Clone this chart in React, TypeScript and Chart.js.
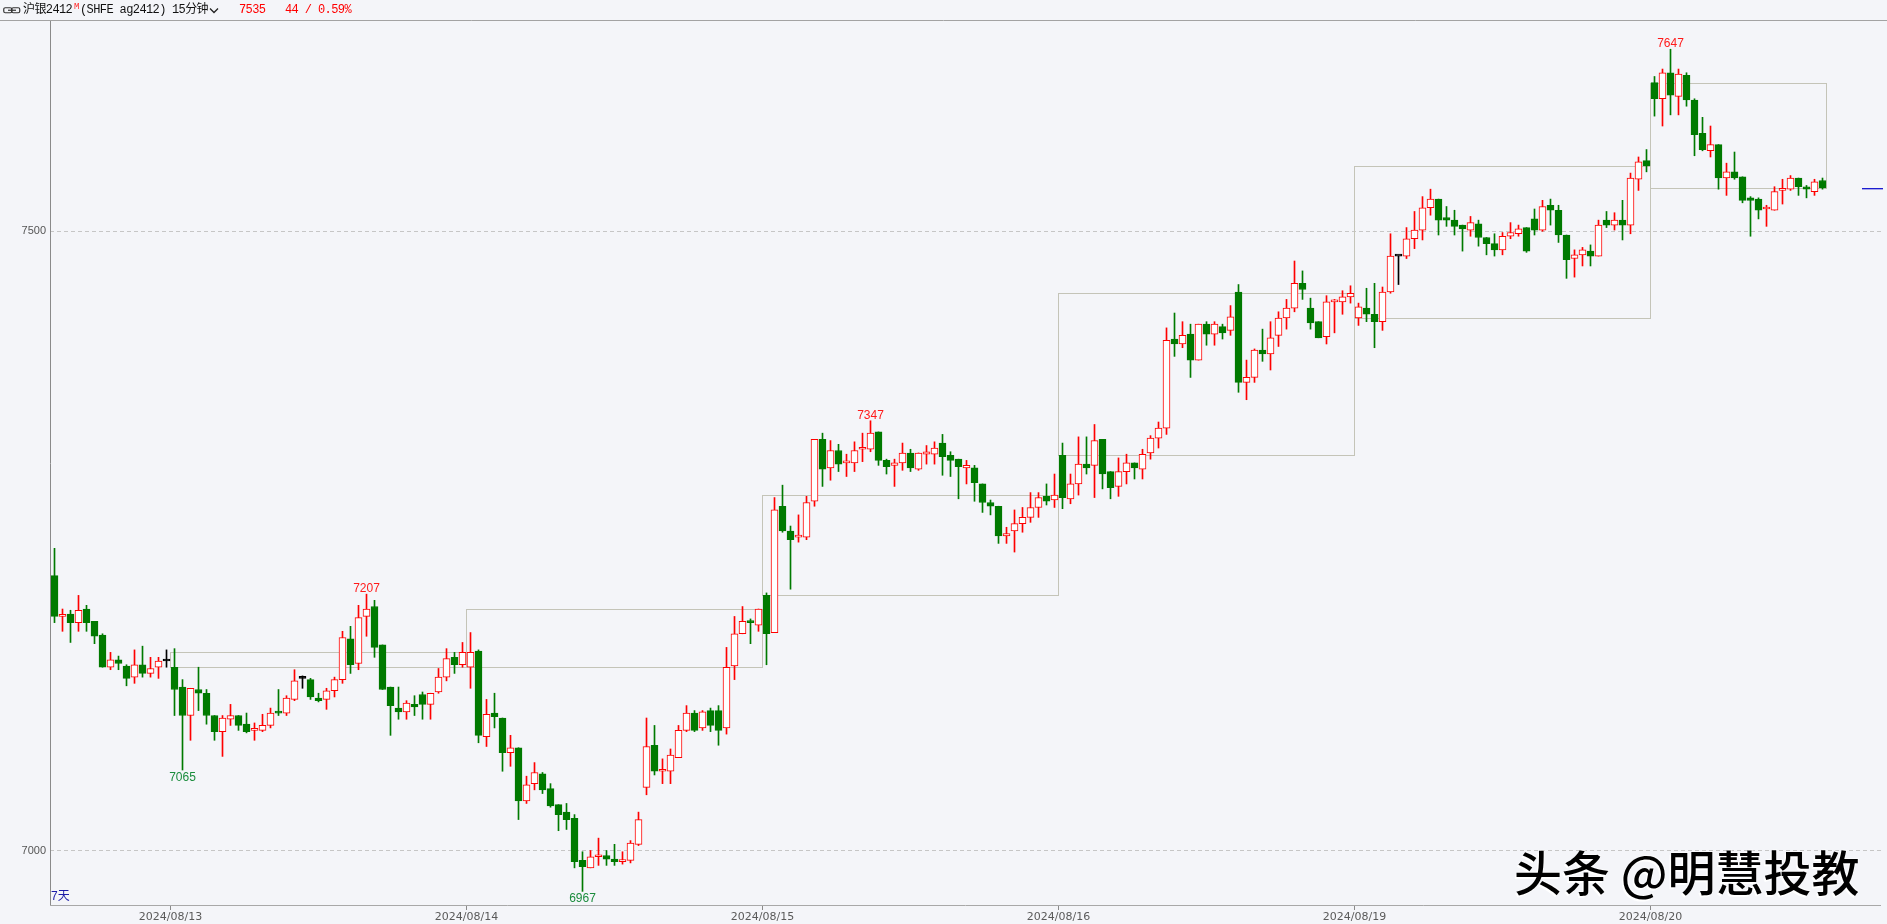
import React, { useEffect, useRef } from 'react';
import { Chart, registerables } from 'chart.js';

Chart.register(...registerables);

// 15-minute candles, index 0 = first bar on the chart
const OPEN = [
  7222, 7189, 7191, 7184, 7195, 7185, 7174, 7148, 7154, 7149, 7140, 7150, 7143, 7148, 7153,
  7148, 7132, 7109, 7130, 7127, 7109, 7096, 7106, 7109, 7102, 7097, 7097, 7101, 7112, 7111,
  7122, 7139, 7138, 7123, 7122, 7129, 7138, 7171, 7151, 7189, 7197, 7166, 7132, 7115, 7112,
  7118, 7126, 7118, 7128, 7140, 7156, 7150,
  7148, 7161, 7092, 7111, 7107, 7079, 7083, 7040, 7054, 7062, 7050, 7037, 7031, 7026, 6992,
  6986, 6995, 6996, 6993, 6991, 6992, 7005, 7051, 7085, 7064, 7064, 7075, 7097, 7111, 7099,
  7113, 7113, 7099, 7149, 7175, 7185, 7182,
  7206, 7176, 7278, 7258, 7253, 7253, 7282, 7332, 7309, 7323, 7313, 7313, 7324, 7324, 7338,
  7315, 7311, 7313, 7321, 7308, 7320, 7320, 7329, 7319, 7316, 7309, 7309, 7296, 7281, 7278,
  7254, 7258, 7264, 7269, 7277, 7286, 7283,
  7319, 7284, 7296, 7312, 7311, 7332, 7306, 7294, 7306, 7313, 7308, 7321, 7333, 7341, 7413,
  7409, 7417, 7396, 7425, 7417, 7423, 7420, 7451, 7378, 7382, 7404, 7401, 7416, 7430, 7438,
  7458, 7438, 7427, 7415, 7443, 7443, 7447,
  7430, 7438, 7433, 7427, 7451, 7480, 7480, 7494, 7501, 7519, 7526, 7511, 7509, 7505, 7501,
  7506, 7495, 7490, 7485, 7496, 7498, 7503, 7510, 7501, 7521, 7517, 7497, 7478, 7481, 7484,
  7480, 7509, 7505, 7509, 7505, 7542, 7557,
  7620, 7607, 7628, 7609, 7626, 7606, 7579, 7565, 7570, 7543, 7548, 7544, 7527, 7526, 7518,
  7517, 7533, 7534, 7543, 7536, 7532, 7541,
];
const HIGH = [
  7244, 7195, 7194, 7206, 7198, 7185, 7175, 7160, 7157, 7150, 7162, 7165, 7156, 7156, 7162,
  7163, 7138, 7131, 7148, 7130, 7109, 7109, 7118, 7109, 7111, 7103, 7110, 7115, 7130, 7125,
  7146, 7141, 7139, 7127, 7131, 7140, 7177, 7181, 7198, 7207, 7202, 7166, 7132, 7132, 7121,
  7125, 7128, 7127, 7147, 7163, 7160, 7168,
  7176, 7162, 7122, 7127, 7107, 7093, 7083, 7060, 7071, 7063, 7054, 7037, 7038, 7029, 6999,
  7000, 7010, 7000, 7005, 6999, 7008, 7031, 7107, 7101, 7074, 7082, 7101, 7117, 7113, 7113,
  7115, 7117, 7164, 7189, 7197, 7187, 7195,
  7208, 7285, 7295, 7262, 7271, 7286, 7332, 7337, 7331, 7328, 7320, 7330, 7337, 7347, 7338,
  7316, 7316, 7329, 7324, 7321, 7327, 7330, 7336, 7322, 7316, 7315, 7311, 7296, 7283, 7278,
  7261, 7275, 7277, 7289, 7289, 7296, 7304,
  7329, 7304, 7334, 7334, 7344, 7332, 7306, 7317, 7320, 7313, 7324, 7335, 7346, 7422, 7434,
  7427, 7425, 7425, 7427, 7427, 7425, 7440, 7457, 7396, 7405, 7421, 7427, 7435, 7445, 7476,
  7468, 7446, 7427, 7448, 7445, 7452, 7456,
  7442, 7454, 7458, 7455, 7498, 7480, 7503, 7516, 7528, 7534, 7526, 7520, 7517, 7505, 7512,
  7509, 7495, 7498, 7499, 7507, 7505, 7503, 7518, 7525, 7526, 7521, 7497, 7485, 7487, 7489,
  7509, 7516, 7515, 7525, 7547, 7560, 7566,
  7625, 7631, 7647, 7631, 7628, 7607, 7592, 7585, 7570, 7555, 7564, 7544, 7528, 7527, 7521,
  7536, 7542, 7545, 7543, 7537, 7542, 7543,
];
const LOW = [
  7184, 7177, 7168, 7177, 7177, 7167, 7148, 7146, 7146, 7133, 7135, 7140, 7140, 7139, 7148,
  7109, 7065, 7089, 7113, 7102, 7089, 7076, 7101, 7097, 7095, 7089, 7096, 7099, 7109, 7109,
  7121, 7131, 7122, 7120, 7114, 7124, 7135, 7143, 7146, 7173, 7156, 7130, 7093, 7106, 7106,
  7109, 7106, 7106, 7127, 7137, 7143, 7148,
  7131, 7087, 7084, 7099, 7064, 7068, 7025, 7038, 7049, 7046, 7035, 7016, 7017, 6986, 6967,
  6986, 6988, 6988, 6988, 6989, 6990, 7004, 7045, 7061, 7054, 7054, 7075, 7096, 7096, 7097,
  7096, 7085, 7094, 7138, 7175, 7167, 7177,
  7150, 7176, 7257, 7211, 7249, 7251, 7278, 7294, 7299, 7306, 7302, 7306, 7314, 7322, 7311,
  7304, 7294, 7307, 7306, 7307, 7312, 7312, 7303, 7302, 7284, 7296, 7282, 7273, 7271, 7248,
  7248, 7241, 7257, 7265, 7269, 7279, 7277,
  7276, 7280, 7287, 7304, 7285, 7292, 7284, 7286, 7296, 7300, 7300, 7316, 7325, 7336, 7399,
  7406, 7382, 7396, 7408, 7408, 7413, 7416, 7370, 7364, 7378, 7395, 7388, 7407, 7421, 7435,
  7445, 7421, 7414, 7409, 7418, 7433, 7442,
  7424, 7427, 7406, 7420, 7450, 7457, 7478, 7486, 7493, 7513, 7497, 7504, 7497, 7484, 7496,
  7488, 7481, 7480, 7481, 7494, 7496, 7483, 7497, 7500, 7505, 7491, 7462, 7463, 7472, 7472,
  7480, 7503, 7501, 7493, 7498, 7533, 7548,
  7593, 7585, 7594, 7594, 7601, 7561, 7565, 7560, 7534, 7529, 7542, 7523, 7496, 7510, 7504,
  7517, 7522, 7533, 7529, 7527, 7529, 7534,
];
const CLOSE = [
  7189, 7190, 7184, 7194, 7184, 7173, 7148, 7154, 7151, 7139, 7150, 7143, 7147, 7153, 7153,
  7130, 7109, 7131, 7127, 7109, 7096, 7107, 7109, 7101, 7096, 7098, 7101, 7111, 7111, 7123,
  7137, 7139, 7124, 7121, 7129, 7138, 7172, 7150, 7188, 7195, 7164, 7130, 7117, 7112, 7119,
  7116, 7118, 7127, 7140, 7155, 7150, 7160,
  7160, 7093, 7110, 7108, 7079, 7083, 7040, 7053, 7063, 7049, 7036, 7029, 7025, 6991, 6987,
  6995, 6996, 6993, 6991, 6992, 7006, 7025, 7084, 7064, 7065, 7077, 7097, 7111, 7097, 7112,
  7101, 7097, 7148, 7175, 7185, 7184, 7195,
  7175, 7275, 7258, 7251, 7254, 7281, 7332, 7308, 7323, 7312, 7314, 7323, 7325, 7337, 7315,
  7310, 7313, 7321, 7309, 7321, 7322, 7325, 7318, 7315, 7310, 7311, 7297, 7281, 7278, 7254,
  7256, 7264, 7269, 7277, 7285, 7282, 7287,
  7285, 7296, 7312, 7309, 7331, 7304, 7293, 7306, 7313, 7309, 7320, 7333, 7341, 7412, 7409,
  7416, 7396, 7425, 7417, 7425, 7418, 7431, 7378, 7382, 7404, 7401, 7414, 7430, 7438, 7458,
  7453, 7426, 7414, 7443, 7444, 7447, 7450,
  7439, 7433, 7427, 7451, 7480, 7480, 7494, 7501, 7519, 7526, 7509, 7509, 7504, 7502, 7507,
  7495, 7490, 7485, 7496, 7499, 7502, 7484, 7501, 7520, 7517, 7497, 7477, 7481, 7485, 7480,
  7505, 7505, 7509, 7505, 7543, 7556, 7553,
  7607, 7628, 7610, 7627, 7606, 7578, 7566, 7570, 7543, 7548, 7543, 7525, 7525, 7517, 7519,
  7532, 7534, 7543, 7536, 7534, 7540, 7535,
];

// trading-day starts (index of first bar) and their axis labels
const DAY_START = [15, 52, 89, 126, 163, 200];
const DAY_LABELS = ['2024/08/13', '2024/08/14', '2024/08/15', '2024/08/16', '2024/08/19', '2024/08/20'];
const Y_TICKS = [7000, 7500];
const HIGH_MARKS = [39, 102, 202];
const LOW_MARKS = [16, 66];

const Y_MIN = 6955.2;
const Y_MAX = 7669.8;
const X_MIN = -0.5625;
const X_MAX = 228.3125;

const BG = '#f4f5f9';
const RED = '#ff0000';
const GREEN = '#007a00';
const BLACK = '#000000';
const HOLLOW = '#ffffff';
const BOX = '#c4c4b8';

export default function App() {
  const ref = useRef<HTMLCanvasElement>(null);

  useEffect(() => {
    document.body.style.margin = '0';
    document.body.style.background = BG;
    const canvas = ref.current;
    if (!canvas) return;
    const n = OPEN.length;
    const idx = OPEN.map((_, i) => i);
    const col = (i: number) => (CLOSE[i] > OPEN[i] ? RED : CLOSE[i] < OPEN[i] ? GREEN : BLACK);

    const overlay = {
      id: 'overlay',
      beforeDatasetsDraw(chart: any) {
        const { ctx } = chart;
        const xs = chart.scales.x;
        const ys = chart.scales.y;
        ctx.save();
        ctx.strokeStyle = BOX;
        ctx.lineWidth = 1;
        DAY_START.forEach((s, d) => {
          const e = d + 1 < DAY_START.length ? DAY_START[d + 1] - 1 : n - 1;
          const top = Math.max(OPEN[s], CLOSE[e]);
          const bot = Math.min(OPEN[s], CLOSE[e]);
          const x1 = xs.getPixelForValue(s - 0.5);
          const x2 = xs.getPixelForValue(e + 0.5);
          const y1 = Math.round(ys.getPixelForValue(top)) + 0.5;
          const y2 = Math.round(ys.getPixelForValue(bot)) + 0.5;
          ctx.strokeRect(x1, y1, x2 - x1, y2 - y1);
        });
        ctx.restore();
      },
      afterDatasetsDraw(chart: any) {
        const { ctx, chartArea } = chart;
        const xs = chart.scales.x;
        const ys = chart.scales.y;
        ctx.save();
        ctx.font = '12px "Liberation Sans", Arial, sans-serif';
        ctx.textAlign = 'center';
        ctx.textBaseline = 'alphabetic';
        HIGH_MARKS.forEach((i) => {
          ctx.fillStyle = '#ff1a1a';
          ctx.fillText(String(HIGH[i]), xs.getPixelForValue(i), ys.getPixelForValue(HIGH[i]) - 2);
        });
        LOW_MARKS.forEach((i) => {
          ctx.fillStyle = '#1a8c3c';
          ctx.fillText(String(LOW[i]), xs.getPixelForValue(i), ys.getPixelForValue(LOW[i]) + 11);
        });
        // last price marker
        const yl = Math.round(ys.getPixelForValue(CLOSE[n - 1])) + 0.5;
        ctx.strokeStyle = '#1c1cd0';
        ctx.lineWidth = 1;
        ctx.beginPath();
        ctx.moveTo(chartArea.right - 19, yl);
        ctx.lineTo(chartArea.right + 2, yl);
        ctx.stroke();
        ctx.strokeStyle = 'rgba(90,90,220,0.5)';
        ctx.beginPath();
        ctx.moveTo(chartArea.right - 19, yl + 1);
        ctx.lineTo(chartArea.right + 2, yl + 1);
        ctx.stroke();
        ctx.restore();
      },
      afterDraw(chart: any) {
        const { ctx, chartArea, width } = chart;
        ctx.save();
        ctx.lineWidth = 1;
        ctx.strokeStyle = '#a3a3a3';
        ctx.beginPath();
        ctx.moveTo(0, chartArea.top - 0.5);
        ctx.lineTo(width, chartArea.top - 0.5);
        ctx.stroke();
        ctx.strokeStyle = '#8a8a8a';
        ctx.beginPath();
        ctx.moveTo(chartArea.left + 0.5, chartArea.top);
        ctx.lineTo(chartArea.left + 0.5, chartArea.bottom);
        ctx.stroke();
        ctx.strokeStyle = '#a8a8a8';
        ctx.beginPath();
        ctx.moveTo(chartArea.left, chartArea.bottom - 0.5);
        ctx.lineTo(chartArea.right, chartArea.bottom - 0.5);
        ctx.stroke();
        ctx.restore();
      },
    };

    const chart = new Chart(canvas, {
      type: 'bar',
      data: {
        datasets: [
          {
            label: 'body',
            data: idx.map((i) => ({ x: i, y: [OPEN[i], CLOSE[i]] })) as any,
            backgroundColor: idx.map((i) => (CLOSE[i] > OPEN[i] ? HOLLOW : col(i))),
            borderColor: idx.map(col),
            borderWidth: 1,
            borderSkipped: false,
            barThickness: 7,
            minBarLength: 2,
            grouped: false,
            order: 0,
          } as any,
          {
            label: 'wick',
            data: idx.map((i) => ({ x: i, y: [LOW[i], HIGH[i]] })) as any,
            backgroundColor: idx.map(col),
            borderWidth: 0,
            barThickness: 1,
            grouped: false,
            order: 1,
          } as any,
        ],
      },
      options: {
        responsive: false,
        animation: false,
        events: [],
        layout: { padding: { top: 21, right: 6, left: 0, bottom: 0 } },
        plugins: { legend: { display: false }, tooltip: { enabled: false } },
        scales: {
          x: {
            type: 'linear',
            min: X_MIN,
            max: X_MAX,
            offset: false,
            afterBuildTicks: (s: any) => {
              s.ticks = DAY_START.map((d) => ({ value: d - 0.5 }));
            },
            afterFit: (s: any) => {
              s.height = 18;
            },
            grid: { display: true, offset: false, drawOnChartArea: false, drawTicks: true, tickLength: 4, color: '#8a8a8a' },
            border: { display: false },
            ticks: {
              autoSkip: false,
              maxRotation: 0,
              minRotation: 0,
              padding: 1,
              color: '#5a5a5a',
              font: { family: '"DejaVu Sans", sans-serif', size: 11 },
              callback: (_v: any, i: number) => DAY_LABELS[i],
            },
          },
          y: {
            type: 'linear',
            min: Y_MIN,
            max: Y_MAX,
            afterBuildTicks: (s: any) => {
              s.ticks = Y_TICKS.map((v) => ({ value: v }));
            },
            afterFit: (s: any) => {
              s.width = 50;
            },
            grid: { color: '#c6c6c6', drawTicks: false, lineWidth: 1 },
            border: { display: false, dash: [4, 3] },
            ticks: {
              padding: 4,
              color: '#555555',
              font: { family: '"Liberation Sans", Arial, sans-serif', size: 11 },
              callback: (v: any) => String(v),
            },
          },
        },
      } as any,
      plugins: [overlay],
    });
    return () => chart.destroy();
  }, []);

  const head: React.CSSProperties = {
    position: 'absolute',
    top: 3,
    fontSize: 12,
    letterSpacing: '-0.6px',
    lineHeight: '15px',
    fontFamily: '"Liberation Mono", "Noto Sans CJK SC", monospace',
    whiteSpace: 'pre',
    color: '#111',
  };

  return (
    <div style={{ position: 'relative', width: 1887, height: 924, background: BG, overflow: 'hidden' }}>
      <canvas ref={ref} width={1887} height={924} style={{ position: 'absolute', left: 0, top: 0, width: 1887, height: 924 }} />
      <svg style={{ position: 'absolute', left: 3, top: 6 }} width={18} height={9} viewBox="0 0 18 9">
        <rect x={0.75} y={1.75} width={8} height={5} rx={1.5} fill="none" stroke="#333" strokeWidth={1.2} />
        <rect x={8.75} y={1.75} width={8} height={5} rx={1.5} fill="none" stroke="#333" strokeWidth={1.2} />
        <line x1={5} y1={4.25} x2={13} y2={4.25} stroke="#333" strokeWidth={1.2} />
      </svg>
      <div style={{ ...head, left: 23 }}>沪银2412</div>
      <div style={{ ...head, left: 74, top: 0, fontSize: 9, letterSpacing: 0, color: '#ff2020' }}>M</div>
      <div style={{ ...head, left: 80 }}>(SHFE ag2412)</div>
      <div style={{ ...head, left: 172 }}>15分钟</div>
      <svg style={{ position: 'absolute', left: 209, top: 7 }} width={10} height={7} viewBox="0 0 10 7">
        <polyline points="1,1.5 5,5.5 9,1.5" fill="none" stroke="#222" strokeWidth={1.3} />
      </svg>
      <div style={{ ...head, left: 239, color: '#ff0000' }}>7535</div>
      <div style={{ ...head, left: 285, color: '#ff0000' }}>44 / 0.59%</div>
      <div style={{ position: 'absolute', left: 51, top: 889, fontSize: 12, lineHeight: '15px', fontFamily: '"Liberation Sans", "Noto Sans CJK SC", sans-serif', color: '#1c1ca8' }}>7天</div>
      <div
        style={{
          position: 'absolute',
          left: 1514,
          top: 844,
          fontSize: 48,
          fontWeight: 500,
          lineHeight: '52px',
          fontFamily: '"Noto Sans CJK SC", sans-serif',
          color: '#000',
          whiteSpace: 'pre',
          textShadow: '-1.5px 1.5px 0 rgba(255,255,255,0.95), 1px -1px 0 rgba(255,255,255,0.6)',
        }}
      >
        头条 @明慧投教
      </div>
    </div>
  );
}
